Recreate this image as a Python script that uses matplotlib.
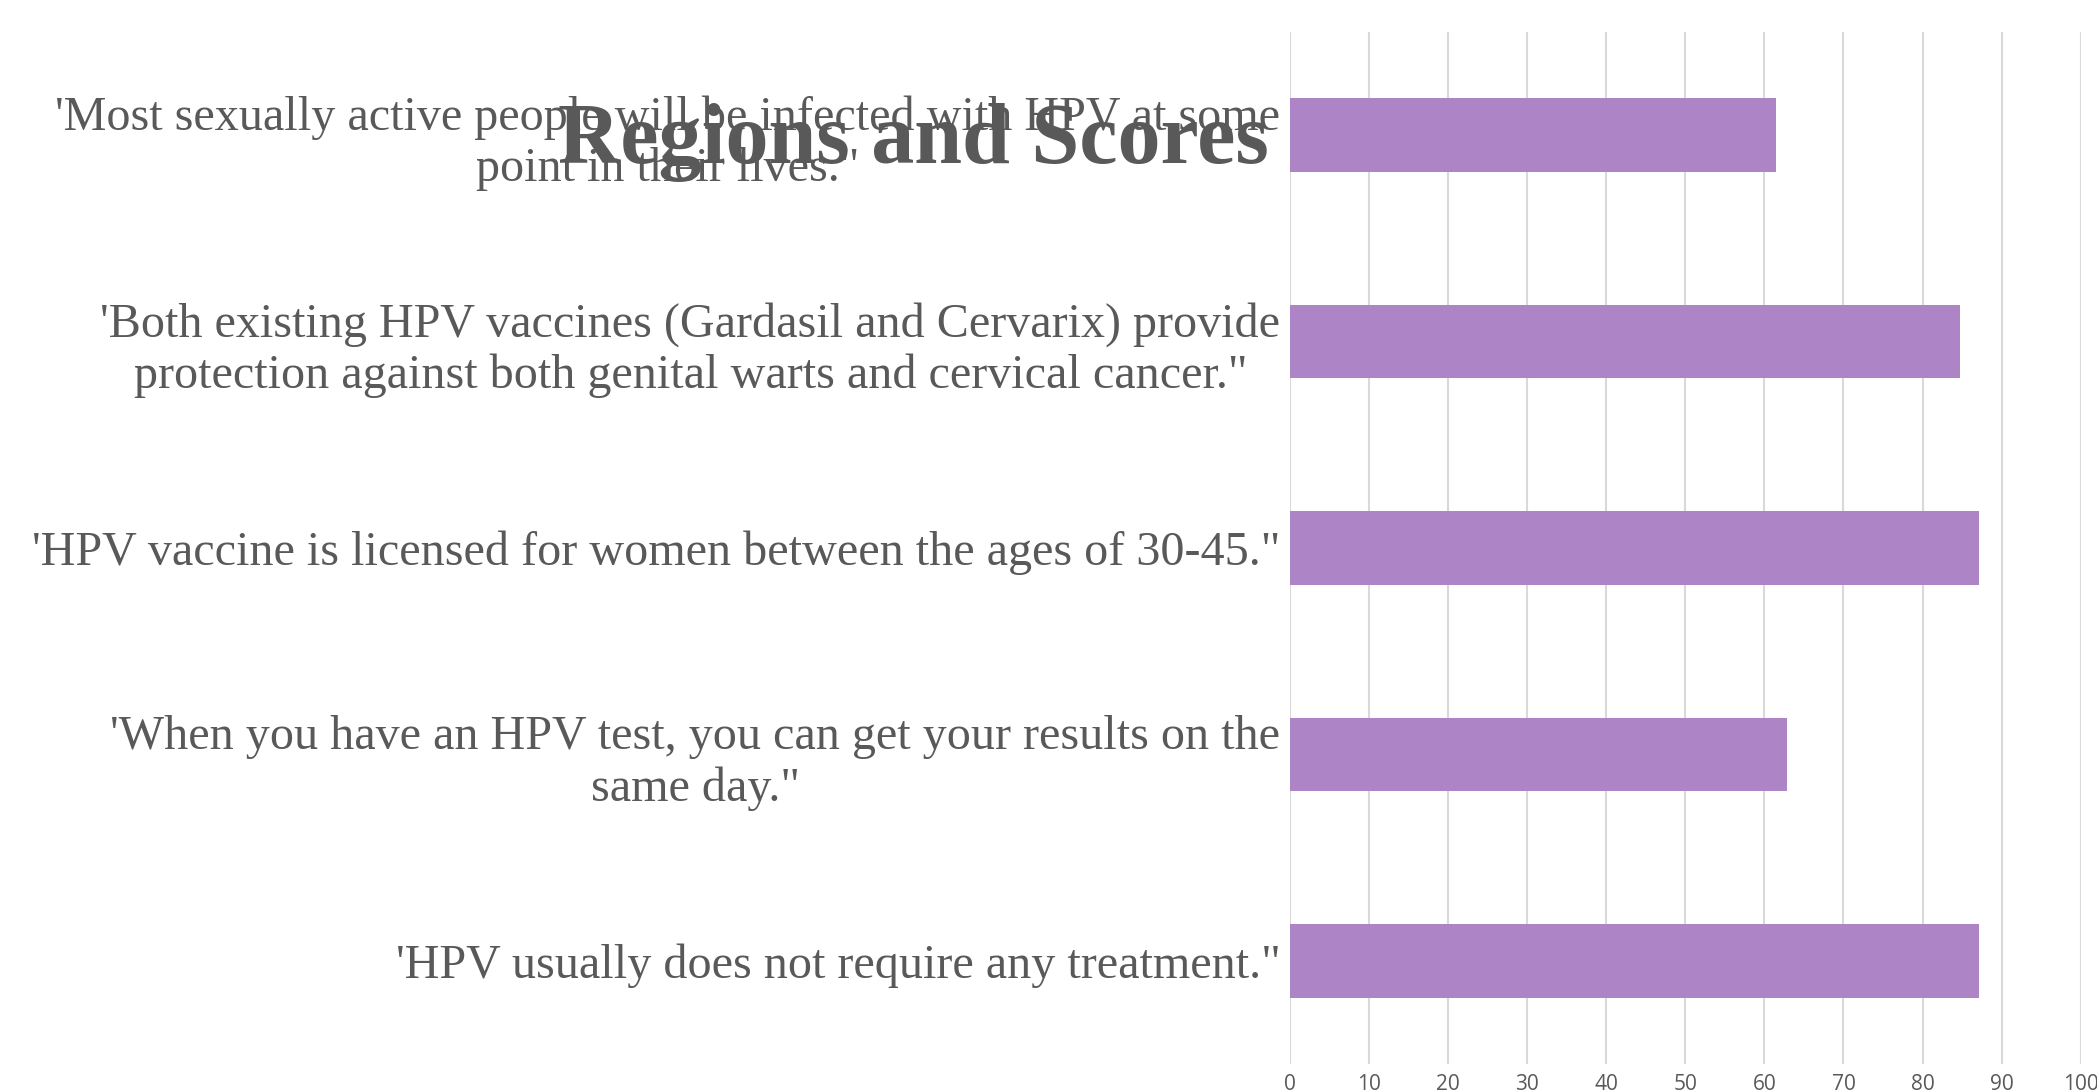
import matplotlib
matplotlib.use('Agg')
import matplotlib.pyplot as plt
import numpy as np

# statements (top to bottom) and their scores
statements = [
	"'Most sexually active people will be infected with HPV at some\npoint in their lives.\"",
	"'Both existing HPV vaccines (Gardasil and Cervarix) provide\nprotection against both genital warts and cervical cancer.\"",
	"'HPV vaccine is licensed for women between the ages of 30-45.\"",
	"'When you have an HPV test, you can get your results on the\nsame day.\"",
	"'HPV usually does not require any treatment.\"",
]
scores = [61.5, 84.8, 87.2, 62.8, 87.1]
x_ticks = [0, 10, 20, 30, 40, 50, 60, 70, 80, 90, 100]
title = 'Regions and Scores'

text_grey = '#595959'
bar_colour = '#ad85c6'
grid_colour = '#d9d9d9'


def main():
	''' draws the chart and saves it'''

	fig = plt.figure(figsize=(20.97, 10.91), dpi=100)
	ax = fig.add_axes([0.6152, 0.0248, 0.3770, 0.9459])

	y = np.arange(len(statements))
	ax.barh(y, scores, height=0.357, color=bar_colour, zorder=3)

	# categories from top to bottom
	ax.set_ylim(len(statements) - 0.5, -0.5)
	ax.set_xlim(0, 100)

	ax.set_yticks(y)
	ax.set_yticklabels(statements, family='Liberation Serif', fontsize=34.7,
		color=text_grey, multialignment='center', linespacing=1.2)
	ax.set_xticks(x_ticks)
	ax.set_xticklabels([str(t) for t in x_ticks], family='Open Sans',
		fontsize=15, color=text_grey)

	ax.tick_params(axis='y', length=0, pad=7)
	ax.tick_params(axis='x', length=0, pad=7)

	# vertical grid lines only
	ax.xaxis.grid(True, color=grid_colour, linewidth=1.5, zorder=0)
	ax.yaxis.grid(False)
	for side in ['top', 'right', 'bottom', 'left']:
		ax.spines[side].set_visible(False)

	# title sits over the first label, as in the original
	fig.text(0.4356, 0.8506, title, ha='center', va='baseline',
		family='Liberation Serif', fontweight='bold', fontsize=62, color=text_grey)

	fig.savefig('out.png', dpi=100)


if __name__ == '__main__':
	main()
